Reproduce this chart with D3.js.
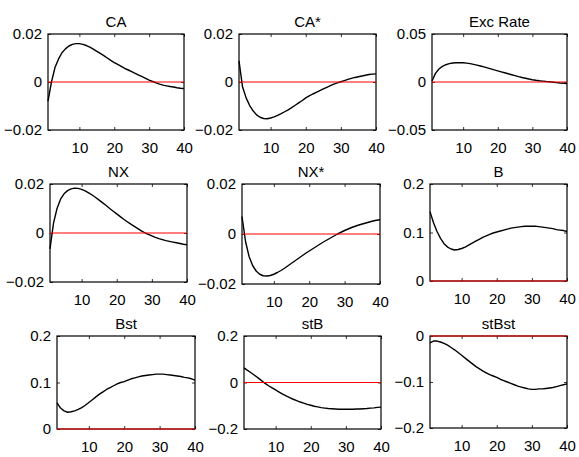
<!DOCTYPE html>
<html>
<head>
<meta charset="utf-8">
<script src="https://cdn.jsdelivr.net/npm/d3@7"></script>
<style>
  html, body { margin: 0; padding: 0; background: #fff; }
  svg { display: block; }
  text { font-family: "Liberation Sans", Arial, Helvetica, sans-serif; fill: #000; }
</style>
</head>
<body>
<svg id="chart" width="579" height="457"></svg>
<script>
// ---- data ----
const periods = d3.range(1, 41);
const titles = ["CA", "CA*", "Exc Rate", "NX", "NX*", "B", "Bst", "stB", "stBst"];
const xTicks = [10, 20, 30, 40];

const CA = [-0.008, 0.000, 0.0060, 0.0095, 0.0122, 0.0138, 0.0150, 0.0157, 0.0160, 0.0160,
  0.0157, 0.0152, 0.0145, 0.0137, 0.0128, 0.0119, 0.0110, 0.0100, 0.0090, 0.0081,
  0.0073, 0.0065, 0.0057, 0.0050, 0.0043, 0.0036, 0.0029, 0.0022, 0.0015, 0.0008,
  0.0002, -0.0004, -0.0009, -0.0013, -0.0016, -0.0019, -0.0021, -0.0024, -0.0026, -0.0027];
const CAstar = [0.0088, -0.0020, -0.0065, -0.0097, -0.0120, -0.0137, -0.0147, -0.0152, -0.0153, -0.0150,
  -0.0145, -0.0139, -0.0132, -0.0124, -0.0116, -0.0107, -0.0097, -0.0087, -0.0077, -0.0066,
  -0.0058, -0.0050, -0.0043, -0.0036, -0.0029, -0.0022, -0.0015, -0.0009, -0.0004, 0.0001,
  0.0006, 0.0011, 0.0015, 0.0019, 0.0022, 0.0025, 0.0028, 0.0031, 0.0033, 0.0034];
const ExcRate = [0.001, 0.009, 0.0135, 0.0163, 0.0180, 0.0192, 0.0198, 0.0201, 0.0202, 0.0201,
  0.0197, 0.0191, 0.0184, 0.0176, 0.0167, 0.0157, 0.0147, 0.0137, 0.0126, 0.0116,
  0.0106, 0.0096, 0.0086, 0.0076, 0.0066, 0.0056, 0.0047, 0.0039, 0.0031, 0.0024,
  0.0018, 0.0013, 0.0009, 0.0005, 0.0002, -0.0002, -0.0006, -0.0010, -0.0013, -0.0015];
const NX = [-0.0065, 0.0040, 0.0100, 0.0138, 0.0160, 0.0173, 0.0180, 0.0183, 0.0182, 0.0178,
  0.0172, 0.0164, 0.0155, 0.0145, 0.0134, 0.0123, 0.0112, 0.0100, 0.0089, 0.0078,
  0.0067, 0.0056, 0.0046, 0.0036, 0.0027, 0.0018, 0.0009, 0.0001, -0.0006, -0.0012,
  -0.0018, -0.0023, -0.0027, -0.0031, -0.0034, -0.0037, -0.0040, -0.0043, -0.0046, -0.0048];
const NXstar = [0.0070, -0.0030, -0.0090, -0.0126, -0.0148, -0.0161, -0.0167, -0.0168, -0.0166, -0.0161,
  -0.0154, -0.0146, -0.0137, -0.0127, -0.0117, -0.0107, -0.0097, -0.0087, -0.0077, -0.0068,
  -0.0059, -0.0050, -0.0041, -0.0032, -0.0024, -0.0016, -0.0008, 0.0000, 0.0007, 0.0014,
  0.0020, 0.0026, 0.0031, 0.0036, 0.0040, 0.0044, 0.0048, 0.0052, 0.0055, 0.0057];
const B = [0.143, 0.120, 0.102, 0.088, 0.077, 0.070, 0.066, 0.064, 0.065, 0.067,
  0.070, 0.074, 0.078, 0.082, 0.086, 0.090, 0.093, 0.096, 0.099, 0.101,
  0.103, 0.105, 0.107, 0.109, 0.110, 0.111, 0.112, 0.113, 0.113, 0.113,
  0.113, 0.112, 0.111, 0.110, 0.109, 0.108, 0.106, 0.105, 0.104, 0.102];
const Bst = [0.056, 0.045, 0.039, 0.036, 0.037, 0.039, 0.042, 0.046, 0.051, 0.057,
  0.063, 0.069, 0.075, 0.080, 0.085, 0.089, 0.093, 0.097, 0.100, 0.102,
  0.105, 0.108, 0.110, 0.112, 0.114, 0.115, 0.116, 0.117, 0.118, 0.118,
  0.118, 0.117, 0.116, 0.115, 0.114, 0.113, 0.111, 0.110, 0.108, 0.105];
const stB = [0.063, 0.052, 0.042, 0.031, 0.020, 0.008, -0.004, -0.014, -0.023, -0.032,
  -0.041, -0.050, -0.058, -0.065, -0.072, -0.078, -0.084, -0.089, -0.094, -0.098,
  -0.102, -0.105, -0.108, -0.110, -0.112, -0.113, -0.114, -0.115, -0.115, -0.115,
  -0.115, -0.115, -0.114, -0.114, -0.113, -0.112, -0.110, -0.109, -0.107, -0.106];
const stBst = [-0.015, -0.011, -0.011, -0.013, -0.016, -0.020, -0.025, -0.030, -0.036, -0.042,
  -0.048, -0.054, -0.060, -0.066, -0.071, -0.076, -0.080, -0.084, -0.087, -0.090,
  -0.094, -0.097, -0.100, -0.103, -0.106, -0.109, -0.111, -0.113, -0.115, -0.116,
  -0.116, -0.115, -0.115, -0.114, -0.113, -0.112, -0.110, -0.108, -0.106, -0.104];

const seriesList = [CA, CAstar, ExcRate, NX, NXstar, B, Bst, stB, stBst];
const yTickValues = [
  [-0.02, 0, 0.02], [-0.02, 0, 0.02], [-0.05, 0, 0.05],
  [-0.02, 0, 0.02], [-0.02, 0, 0.02], [0, 0.1, 0.2],
  [0, 0.1, 0.2], [-0.2, 0, 0.2], [-0.2, -0.1, 0]
];
const yTickLabels = [
  ["\u22120.02", "0", "0.02"], ["\u22120.02", "0", "0.02"], ["\u22120.05", "0", "0.05"],
  ["\u22120.02", "0", "0.02"], ["\u22120.02", "0", "0.02"], ["0", "0.1", "0.2"],
  ["0", "0.1", "0.2"], ["\u22120.2", "0", "0.2"], ["\u22120.2", "\u22120.1", "0"]
];

// ---- layout (pixel boxes of each subplot) ----
const boxes = [
  {l: 48, r: 184, t: 34, b: 130}, {l: 239, r: 376, t: 34, b: 130}, {l: 432, r: 567, t: 34, b: 130},
  {l: 50, r: 187, t: 184, b: 282}, {l: 242, r: 380, t: 184, b: 284}, {l: 430, r: 567, t: 184, b: 281},
  {l: 57, r: 195, t: 336, b: 429}, {l: 244, r: 381, t: 336, b: 429}, {l: 430, r: 567, t: 336, b: 428}
];

const svg = d3.select("#chart");
const fontSize = 15;
const tickLen = 3;

titles.forEach((title, i) => {
  const bx = boxes[i];
  const yt = yTickValues[i];
  const x = d3.scaleLinear().domain([1, 40]).range([bx.l, bx.r]);
  const y = d3.scaleLinear().domain([yt[0], yt[yt.length - 1]]).range([bx.b, bx.t]);
  const g = svg.append("g");

  // black response line
  const line = d3.line().x((d, k) => x(periods[k])).y(d => y(d));
  g.append("path")
    .datum(seriesList[i])
    .attr("fill", "none")
    .attr("stroke", "#000")
    .attr("stroke-width", 1.4)
    .attr("stroke-linejoin", "round")
    .attr("d", line);

  // axes (ticks inside)
  const xb = g.append("g").attr("transform", `translate(0,${bx.b})`)
    .call(d3.axisBottom(x).tickValues(xTicks).tickSize(-tickLen).tickPadding(12).tickFormat(d3.format("d")));
  const xt = g.append("g").attr("transform", `translate(0,${bx.t})`)
    .call(d3.axisTop(x).tickValues(xTicks).tickSize(-tickLen).tickFormat(""));
  const yl = g.append("g").attr("transform", `translate(${bx.l},0)`)
    .call(d3.axisLeft(y).tickValues(yt).tickSize(-tickLen).tickPadding(tickLen + 3)
      .tickFormat((d, k) => yTickLabels[i][k]));
  const yr = g.append("g").attr("transform", `translate(${bx.r},0)`)
    .call(d3.axisRight(y).tickValues(yt).tickSize(-tickLen).tickFormat(""));
  [xb, xt, yl, yr].forEach(a => {
    a.select(".domain").remove();
    a.selectAll("line").attr("stroke", "#000").attr("stroke-width", 0.8);
    a.selectAll("text").attr("font-size", fontSize).attr("font-family", null);
  });
  xb.selectAll("text").attr("dy", "0.71em");

  // box
  g.append("rect")
    .attr("x", bx.l).attr("y", bx.t)
    .attr("width", bx.r - bx.l).attr("height", bx.b - bx.t)
    .attr("fill", "none").attr("stroke", "#000").attr("stroke-width", 1.2);

  // red zero line
  g.append("line")
    .attr("x1", x(1)).attr("x2", x(40))
    .attr("y1", y(0)).attr("y2", y(0))
    .attr("stroke", "red").attr("stroke-width", 1.2);

  // title
  g.append("text")
    .attr("x", (bx.l + bx.r) / 2)
    .attr("y", bx.t - 7)
    .attr("text-anchor", "middle")
    .attr("font-size", fontSize)
    .text(title);
});
</script>
</body>
</html>
